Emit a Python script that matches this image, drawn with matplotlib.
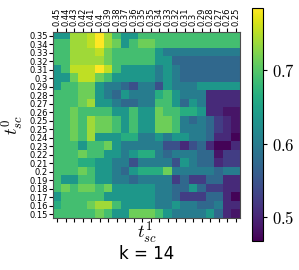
import numpy as np
import matplotlib
matplotlib.use("Agg")
import matplotlib.pyplot as plt

plt.rcParams['mathtext.fontset'] = 'cm'

x_labels = ['0.45', '0.44', '0.43', '0.42', '0.41', '0.4', '0.39', '0.38', '0.37', '0.36', '0.35',
            '0.35', '0.34', '0.33', '0.32', '0.31', '0.3', '0.29', '0.28', '0.27', '0.26', '0.25']
y_labels = ['0.35', '0.34', '0.33', '0.32', '0.31', '0.3', '0.29', '0.28', '0.27', '0.26', '0.25',
            '0.25', '0.24', '0.23', '0.22', '0.21', '0.2', '0.19', '0.18', '0.17', '0.16', '0.15']

# rows top (t0=0.35) to bottom (t0=0.15), columns t1=0.45 .. 0.25
scores = [
    [.635, .635, .74, .74, .755, .785, .74, .69, .635, .635, .69, .69, .69, .69, .69, .69, .69, .69, .69, .69, .69, .69],
    [.69, .69, .74, .74, .755, .785, .74, .715, .635, .69, .715, .715, .69, .69, .69, .69, .69, .69, .69, .69, .69, .69],
    [.69, .69, .74, .74, .74, .755, .715, .69, .69, .69, .69, .69, .635, .60, .60, .60, .60, .60, .60, .60, .60, .60],
    [.69, .69, .74, .74, .74, .74, .715, .69, .69, .69, .69, .69, .635, .635, .575, .575, .575, .575, .575, .575, .575, .575],
    [.635, .69, .755, .755, .755, .785, .755, .69, .635, .635, .635, .635, .60, .635, .60, .575, .575, .575, .575, .575, .575, .575],
    [.635, .635, .715, .755, .755, .715, .69, .635, .635, .635, .635, .635, .60, .635, .60, .575, .575, .575, .575, .575, .575, .575],
    [.635, .69, .69, .715, .715, .635, .60, .60, .575, .545, .60, .60, .545, .635, .60, .60, .60, .635, .635, .635, .635, .635],
    [.69, .69, .69, .715, .715, .635, .60, .575, .635, .60, .60, .60, .665, .69, .635, .60, .60, .60, .505, .505, .505, .505],
    [.69, .69, .69, .715, .74, .635, .635, .60, .575, .575, .60, .60, .69, .69, .635, .575, .635, .60, .505, .505, .505, .505],
    [.69, .69, .715, .69, .69, .69, .69, .635, .635, .69, .635, .635, .715, .69, .69, .665, .665, .635, .505, .505, .485, .485],
    [.69, .69, .715, .69, .74, .715, .715, .69, .635, .69, .635, .635, .715, .715, .69, .60, .575, .60, .575, .525, .505, .485],
    [.69, .69, .715, .69, .74, .715, .715, .69, .635, .69, .635, .635, .715, .715, .69, .60, .60, .60, .575, .525, .505, .485],
    [.69, .69, .715, .69, .74, .635, .635, .635, .665, .665, .60, .60, .635, .60, .635, .635, .60, .60, .575, .505, .505, .47],
    [.69, .69, .69, .635, .69, .69, .715, .635, .60, .60, .60, .60, .60, .545, .545, .505, .545, .575, .505, .47, .47, .505],
    [.69, .69, .69, .715, .69, .69, .635, .635, .60, .635, .665, .665, .60, .575, .60, .60, .60, .575, .575, .485, .525, .525],
    [.69, .69, .69, .665, .665, .635, .635, .60, .60, .545, .60, .60, .60, .60, .545, .635, .60, .575, .575, .505, .525, .525],
    [.69, .69, .69, .715, .69, .635, .635, .60, .575, .635, .665, .665, .665, .715, .60, .60, .60, .60, .60, .575, .60, .60],
    [.69, .635, .635, .69, .69, .635, .635, .60, .60, .575, .60, .60, .60, .60, .525, .575, .525, .525, .575, .575, .505, .505],
    [.69, .715, .69, .715, .715, .69, .715, .635, .635, .635, .635, .635, .60, .60, .575, .575, .635, .575, .525, .525, .505, .505],
    [.635, .69, .69, .69, .69, .69, .635, .635, .635, .635, .635, .635, .60, .60, .575, .525, .525, .525, .575, .575, .505, .47],
    [.665, .69, .69, .69, .715, .74, .74, .69, .635, .635, .635, .635, .60, .60, .635, .60, .60, .575, .575, .60, .505, .505],
    [.69, .69, .69, .69, .69, .715, .69, .635, .635, .715, .715, .715, .69, .635, .60, .60, .60, .60, .635, .575, .505, .485],
]

data = np.array(scores)

fig = plt.figure(figsize=(2.99, 2.70), dpi=100)
ax = fig.add_axes([0.178, 0.191, 0.625, 0.692])
cax = fig.add_axes([0.842, 0.107, 0.039, 0.863])

im = ax.imshow(data, cmap='viridis', vmin=0.467, vmax=0.785, aspect='auto',
               interpolation='nearest')

ax.set_xticks(np.arange(len(x_labels)))
ax.set_xticklabels(x_labels, rotation=90, fontsize=6)
ax.set_yticks(np.arange(len(y_labels)))
ax.set_yticklabels(y_labels, fontsize=6)
ax.tick_params(axis='x', top=True, labeltop=True, bottom=True, labelbottom=False,
               length=3, pad=1)
ax.tick_params(axis='y', length=3, pad=1)
for s in ax.spines.values():
    s.set_color('0.3')

ax.set_xlabel(r'$t^1_{sc}$', fontsize=13, labelpad=-1)
ax.set_ylabel(r'$t^0_{sc}$', fontsize=13, labelpad=2)
ax.text(0.5, -0.19, 'k = 14', transform=ax.transAxes, ha='center', va='center',
        fontsize=12)

cb = fig.colorbar(im, cax=cax, ticks=[0.5, 0.6, 0.7])
cb.ax.set_yticklabels([r'$0.5$', r'$0.6$', r'$0.7$'], fontsize=12)
cb.ax.tick_params(length=3)

fig.savefig('out.png', dpi=100)
